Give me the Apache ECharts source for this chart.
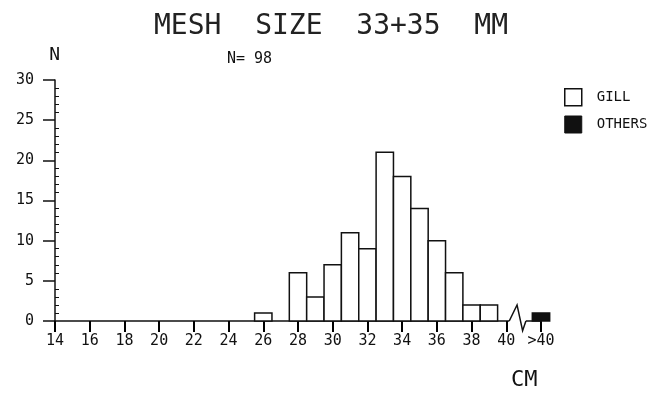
<!DOCTYPE html>
<html>
<head>
<meta charset="utf-8">
<script src="https://cdn.jsdelivr.net/npm/echarts@6/dist/echarts.min.js"></script>
<style>
html,body{margin:0;padding:0;background:#fff;}
#chart{width:662px;height:395px;}
</style>
</head>
<body>
<div id="chart"></div>
<script>
// ---- data ----
const titleText = 'MESH  SIZE  33+35  MM';
const sampleLabel = 'N= 98';
const lengthClasses = [26, 28, 29, 30, 31, 32, 33, 34, 35, 36, 37, 38, 39]; // cm
const gillCounts    = [1, 6, 3, 7, 11, 9, 21, 18, 14, 10, 6, 2, 2];
const othersClasses = [42];   // plotted slot of the ">40" class
const othersCounts  = [1];
const xTickLabels = {14:'14',16:'16',18:'18',20:'20',22:'22',24:'24',26:'26',28:'28',30:'30',32:'32',34:'34',36:'36',38:'38',40:'40',42:'>40'};
const yTickValues = [0, 5, 10, 15, 20, 25, 30];
const breakAt = [41];         // axis break between 40 and >40

const FONT = 'DejaVu Sans Mono';
const INK = '#111';

const chart = echarts.init(document.getElementById('chart'), null, {renderer:'canvas'});

function barItem(fill) {
  return function (params, api) {
    const x = api.value(0), v = api.value(1);
    const p0 = api.coord([x - 0.5, 0]);
    const p1 = api.coord([x + 0.5, v]);
    return {
      type: 'rect',
      shape: {x: p0[0], y: p1[1], width: p1[0] - p0[0], height: p0[1] - p1[1]},
      style: {fill: fill, stroke: INK, lineWidth: 1.5}
    };
  };
}

const option = {
  backgroundColor: '#fff',
  animation: false,
  title: {
    text: titleText,
    left: 'center',
    top: 8,
    textStyle: {fontFamily: FONT, fontSize: 28, fontWeight: 'normal', color: '#222'}
  },
  legend: {
    orient: 'vertical',
    left: 559,
    top: 83,
    itemWidth: 17,
    itemHeight: 17,
    itemGap: 9,
    textStyle: {fontFamily: FONT, fontSize: 14, color: INK, padding: [0, 0, 0, 10]},
    data: [
      {name: 'GILL', icon: 'rect', itemStyle: {color: '#fff', borderColor: INK, borderWidth: 1.5}},
      {name: 'OTHERS', icon: 'rect', itemStyle: {color: '#111', borderColor: INK, borderWidth: 1}}
    ]
  },
  grid: {left: 55, right: 121, top: 80, bottom: 74, containLabel: false},
  xAxis: {
    type: 'value',
    min: 14,
    max: 42,
    interval: 2,
    splitLine: {show: false},
    axisLine: {show: true, onZero: false, lineStyle: {color: INK, width: 1.5}},
    axisTick: {show: true, inside: false, length: 11, lineStyle: {color: '#000', width: 2}},
    axisLabel: {
      margin: 13,
      fontFamily: FONT, fontSize: 15, color: INK,
      formatter: v => (xTickLabels[v] !== undefined ? xTickLabels[v] : '')
    }
  },
  yAxis: {
    type: 'value',
    min: yTickValues[0],
    max: yTickValues[yTickValues.length - 1],
    interval: 5,
    name: 'N',
    nameLocation: 'end',
    nameGap: 16,
    nameTextStyle: {fontFamily: FONT, fontSize: 18, color: INK, align: 'right', padding: [0, -5, 0, 0]},
    splitLine: {show: false},
    axisLine: {show: true, lineStyle: {color: INK, width: 1.5}},
    axisTick: {show: true, length: 12, lineStyle: {color: INK, width: 1.5}},
    minorTick: {show: true, splitNumber: 5, length: -4, lineStyle: {color: INK, width: 1}},
    axisLabel: {margin: 21, fontFamily: FONT, fontSize: 15, color: INK}
  },
  graphic: [
    {type: 'text', left: 227, top: 52,
     style: {text: sampleLabel, font: '15px "DejaVu Sans Mono"', fill: INK}},
    {type: 'text', left: 511, top: 369,
     style: {text: 'CM', font: '22px "DejaVu Sans Mono"', fill: INK}}
  ],
  series: [
    {
      name: 'GILL',
      type: 'custom',
      renderItem: barItem('#fff'),
      encode: {x: 0, y: 1},
      data: lengthClasses.map((c, i) => [c, gillCounts[i]]),
      z: 3
    },
    {
      name: 'OTHERS',
      type: 'custom',
      renderItem: barItem('#111'),
      encode: {x: 0, y: 1},
      data: othersClasses.map((c, i) => [c, othersCounts[i]]),
      z: 3
    },
    {
      name: 'break',
      type: 'custom',
      silent: true,
      encode: {x: 0},
      data: breakAt.map(b => [b]),
      renderItem: function (params, api) {
        const b = api.value(0);
        const a = api.coord([b - 0.83, 0]);
        const pk = api.coord([b - 0.38, 2]);
        const tr = api.coord([b - 0.06, -1.2]);
        const e = api.coord([b + 0.13, 0]);
        return {
          type: 'group',
          children: [
            {type: 'rect', shape: {x: a[0], y: a[1] - 2, width: e[0] - a[0], height: 4},
             style: {fill: '#fff', stroke: null}},
            {type: 'polyline', shape: {points: [a, pk, tr, e]},
             style: {stroke: INK, lineWidth: 1.5, fill: null}}
          ]
        };
      },
      z: 4
    }
  ]
};
chart.setOption(option);
</script>
</body>
</html>
